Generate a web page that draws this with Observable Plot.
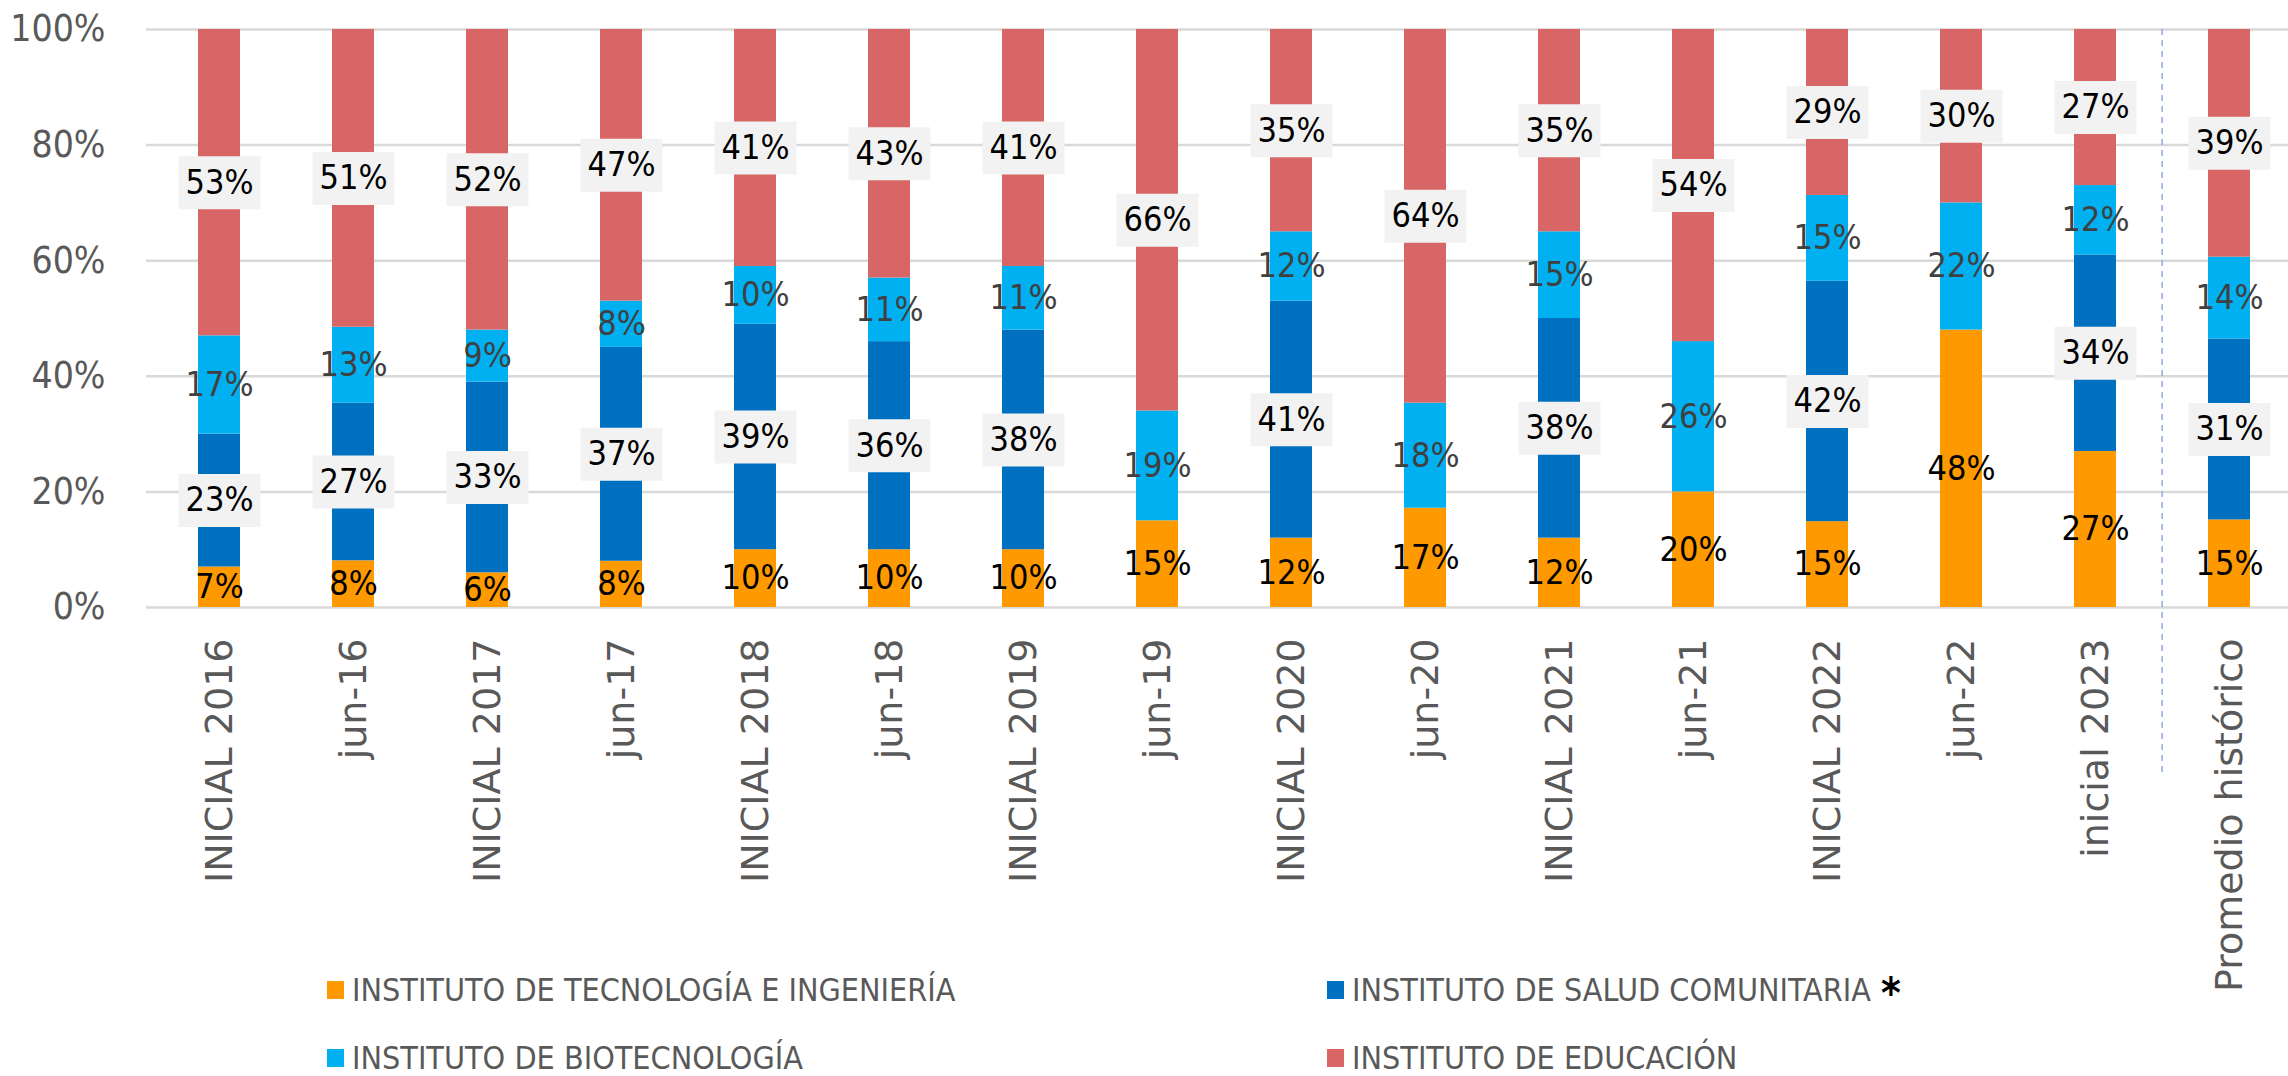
<!DOCTYPE html>
<html>
<head>
<meta charset="utf-8">
<script src="https://cdn.jsdelivr.net/npm/d3@7"></script>
<script src="https://cdn.jsdelivr.net/npm/@observablehq/plot@0.6"></script>
<style>
html, body { margin: 0; padding: 0; background: #fff; }
#wrap { position: relative; width: 2288px; height: 1076px; overflow: hidden; }
#legend { position: absolute; left: 0; top: 0; width: 2288px; height: 1076px; pointer-events: none;
  font-family: "DejaVu Sans Condensed", "DejaVu Sans", sans-serif;
  font-size: 32px; color: #595959; }
.item { position: absolute; display: flex; align-items: center; white-space: nowrap; height: 40px; }
.sw { width: 17px; height: 18px; margin-right: 8px; flex: none; }
.ast { color: #000; font-weight: bold; font-size: 42px; margin-left: 10px; position: relative; top: 3px; }
</style>
</head>
<body>
<div id="wrap"></div>
<script>
// ---------- data ----------
const categories = [
  "INICIAL 2016", "jun-16", "INICIAL 2017", "jun-17", "INICIAL 2018", "jun-18",
  "INICIAL 2019", "jun-19", "INICIAL 2020", "jun-20", "INICIAL 2021", "jun-21",
  "INICIAL 2022", "jun-22", "inicial 2023", "Promedio histórico"
];
const seriesNames = [
  "INSTITUTO DE TECNOLOGÍA E INGENIERÍA",
  "INSTITUTO DE SALUD COMUNITARIA",
  "INSTITUTO DE BIOTECNOLOGÍA",
  "INSTITUTO DE EDUCACIÓN"
];
const seriesColors = ["#FF9900", "#0070C0", "#00B0F0", "#D96666"];
const tecnologia    = [7, 8, 6, 8, 10, 10, 10, 15, 12, 17, 12, 20, 15, 48, 27, 15];
const salud         = [23, 27, 33, 37, 39, 36, 38, 0, 41, 0, 38, 0, 42, 0, 34, 31];
const biotecnologia = [17, 13, 9, 8, 10, 11, 11, 19, 12, 18, 15, 26, 15, 22, 12, 14];
const educacion     = [53, 51, 52, 47, 41, 43, 41, 66, 35, 64, 35, 54, 29, 30, 27, 39];
const yTicks = [0, 0.2, 0.4, 0.6, 0.8, 1];

// label styling per series
const labelColors = ["#000000", "#000000", "#404040", "#000000"];
const labelBoxed  = [false, true, false, true];

// ---------- table ----------
const seriesValues = [tecnologia, salud, biotecnologia, educacion];
const rows = [];
categories.forEach((cat, i) => {
  seriesNames.forEach((s, k) => {
    rows.push({cat, series: s, k, value: seriesValues[k][i]});
  });
});

const NARROW = '"DejaVu Sans Condensed", "DejaVu Sans", sans-serif';
const W = 2288, H = 1076;
const xRange = [146, 2302];
const step = (xRange[1] - xRange[0]) / categories.length;
const boxSymbol = { draw(ctx) { ctx.rect(-41, -26.5, 82, 53); } };
const stackOpts = {x: "cat", y: "value", z: "series", offset: "normalize"};

const chart = Plot.plot({
  width: W,
  height: H,
  marginTop: 29,
  marginBottom: H - 607,
  marginLeft: 146,
  marginRight: 0,
  style: {fontFamily: NARROW, color: "#595959", background: "white", overflow: "visible"},
  x: {domain: categories, range: xRange, paddingInner: 0.688, paddingOuter: 0.344, axis: null},
  y: {domain: [0, 1], axis: null},
  color: {domain: seriesNames, range: seriesColors},
  marks: [
    Plot.ruleY(yTicks, {stroke: "#D9D9D9", strokeWidth: 2.5}),
    Plot.barY(rows, Plot.stackY({...stackOpts, fill: "series"})),
    Plot.ruleX([categories[categories.length - 1]], {
      x: d => d, dx: -step / 2, y1: 1, y2: 0, insetBottom: -165,
      stroke: "#8FAADC", strokeWidth: 1.5, strokeDasharray: "6,5"
    }),
    Plot.dot(rows, Plot.stackY({
      ...stackOpts, symbol: boxSymbol, r: 1, stroke: "none",
      fill: d => (labelBoxed[d.k] && d.value > 0) ? "#F2F2F2" : "transparent"
    })),
    Plot.text(rows, Plot.stackY({
      ...stackOpts,
      text: d => d.value > 0 ? d.value + "%" : "",
      fill: d => labelColors[d.k],
      fontSize: 34, fontFamily: NARROW
    })),
    Plot.axisY({ticks: yTicks, tickFormat: d3.format(".0%"), tickSize: 0, tickPadding: 41, fontSize: 37, label: null}),
    Plot.axisX({tickRotate: -90, tickSize: 0, tickPadding: 31, fontSize: 38, fontFamily: "DejaVu Sans", label: null})
  ]
});

const wrap = document.getElementById("wrap");
wrap.appendChild(chart);

// ---------- legend ----------
const legend = document.createElement("div");
legend.id = "legend";
const legendPos = [[327, 990], [1327, 990], [327, 1058], [1327, 1058]];
const legendOrder = [0, 1, 2, 3];
legendOrder.forEach((k, j) => {
  const it = document.createElement("div");
  it.className = "item";
  it.style.left = legendPos[j][0] + "px";
  it.style.top = (legendPos[j][1] - 20) + "px";
  const sw = document.createElement("span");
  sw.className = "sw";
  sw.style.background = seriesColors[k];
  it.appendChild(sw);
  const t = document.createElement("span");
  t.textContent = seriesNames[k];
  it.appendChild(t);
  if (k === 1) {
    const a = document.createElement("span");
    a.className = "ast";
    a.textContent = "*";
    it.appendChild(a);
  }
  legend.appendChild(it);
});
wrap.appendChild(legend);
</script>
</body>
</html>
